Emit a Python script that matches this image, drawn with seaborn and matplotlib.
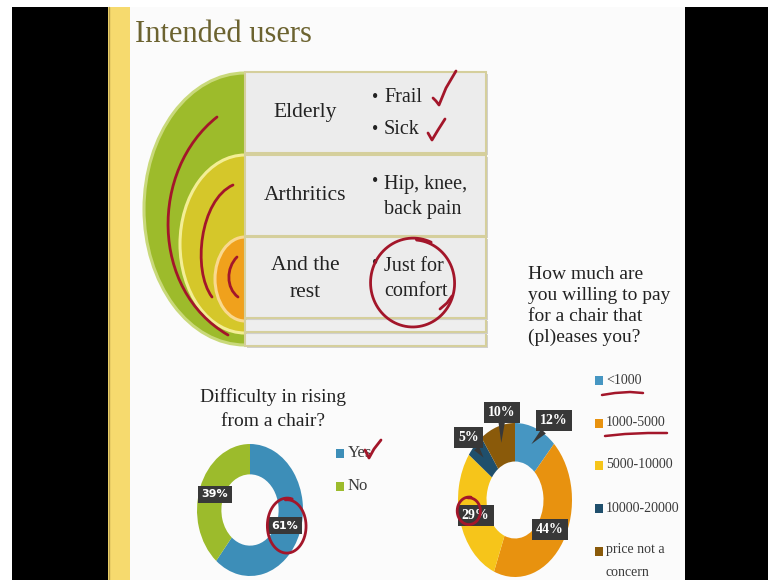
import numpy as np
import matplotlib
matplotlib.use("Agg")
import matplotlib.pyplot as plt
import seaborn as sns
from matplotlib.patches import Rectangle, Ellipse, PathPatch
from matplotlib.path import Path

# ---- survey data -------------------------------------------------------
rising_labels = ["Yes", "No"]
rising_share = [61, 39]

budget_labels = ["<1000", "1000-5000", "5000-10000", "10000-20000",
                 "price not a\nconcern"]
budget_share = [12, 44, 29, 5, 10]

groups = ["Elderly", "Arthritics", "And the\nrest"]
group_notes = [["Frail", "Sick"], ["Hip, knee,\nback pain"], ["Just for\ncomfort"]]

title = "Intended users"
rising_question = "Difficulty in rising\nfrom a chair?"
budget_question = "How much are\nyou willing to pay\nfor a chair that\n(pl)eases you?"

# ---- style ---------------------------------------------------------------
sns.set_theme(style="white")
plt.rcParams["font.family"] = ["Liberation Serif", "DejaVu Serif"]

rising_colors = sns.color_palette(["#3d8eb8", "#9cbb2c"])
budget_colors = sns.color_palette(["#4696c2", "#e8920f", "#f6c51a", "#1f4f6c", "#8a5a0a"])
ring_colors = ["#9dbb2b", "#d5c72a", "#f0a11c"]
ink = "#a3162a"
text_dark = "#222222"
box_dark = "#383838"

W, H = 768, 580
fig = plt.figure(figsize=(W / 100, H / 100), dpi=100)
fig.patch.set_facecolor("white")


def pixel_axes():
    a = fig.add_axes([0, 0, 1, 1])
    a.set_xlim(0, W)
    a.set_ylim(H, 0)
    a.axis("off")
    return a


bg = pixel_axes()

# frame around the slide
bg.add_patch(Rectangle((12, 7), 96, H - 7, fc="black", ec="none"))
bg.add_patch(Rectangle((108, 7), 22, H - 7, fc="#f6da6e", ec="none"))
bg.plot([108.5, 108.5], [7, H], color="#b9a04a", lw=1)
bg.add_patch(Rectangle((130, 7), 555, H - 7, fc="#fbfbfb", ec="none"))
bg.add_patch(Rectangle((685, 7), W - 685, H - 7, fc="black", ec="none"))

bg.text(135, 42, title, fontsize=22, color="#6c6330", va="baseline", ha="left")

# ---- nested target diagram ---------------------------------------------
ring_geom = [((245, 209), 202, 272), ((245, 244), 130, 178), ((245, 279), 60, 84)]
ring_edges = ["#c9d97a", "#f3ee95", "#f9d98e"]
for (c, w, h), fc, ec in zip(ring_geom, ring_colors, ring_edges):
    bg.add_patch(Ellipse(c, w, h, fc=fc, ec=ec, lw=2.2))

box_x, box_w = 245, 241
for y0 in (333, 319):
    bg.add_patch(Rectangle((box_x + 1.5, y0 + 1.5), box_w, 13, fc="#d0d0d0", ec="none"))
    bg.add_patch(Rectangle((box_x, y0), box_w, 13, fc="#eeeeee", ec="#d5cf9c", lw=1.5))
rows_y = [(72, 81), (155, 81), (237, 81)]
for (y0, h) in rows_y:
    bg.add_patch(Rectangle((box_x + 1.5, y0 + 1.5), box_w, h, fc="#d0d0d0", ec="none"))
    bg.add_patch(Rectangle((box_x, y0), box_w, h, fc="#ececec", ec="#d5cf9c", lw=1.5))

group_y = [113, 195, 279]
for g, y in zip(groups, group_y):
    bg.text(305, y, g, fontsize=15.5, color=text_dark, ha="center", va="center",
            linespacing=1.55)

note_rows = [[97, 130], [197], [279]]
for notes, ys in zip(group_notes, note_rows):
    for note, y in zip(notes, ys):
        lines = note.split("\n")
        off = (len(lines) - 1) * 15
        bg.text(372, y - off, "\u2022", fontsize=13, color=text_dark, ha="left", va="center")
        bg.text(384, y, note, fontsize=14.5, color=text_dark, ha="left", va="center",
                linespacing=1.45)

# ---- questions -----------------------------------------------------------
bg.text(273, 409, rising_question, fontsize=14, color=text_dark, ha="center",
        va="center", linespacing=1.6)
bg.text(528, 306, budget_question, fontsize=14, color=text_dark, ha="left",
        va="center", linespacing=1.28)

# ---- legends ---------------------------------------------------------------
for lab, col, y in zip(rising_labels, rising_colors, [453, 486]):
    bg.add_patch(Rectangle((336, y - 4.5), 8, 9, fc=col, ec="none"))
    bg.text(348, y, lab, fontsize=12, color="#3a3a3a", ha="left", va="center")

for lab, col, y in zip(budget_labels, budget_colors, [380, 423, 465, 508, 551]):
    bg.add_patch(Rectangle((595, y - 4.5), 8, 9, fc=col, ec="none"))
    multi = "\n" in lab
    bg.text(606, y - 8 if multi else y, lab, fontsize=10, color="#3a3a3a", ha="left",
            va="top" if multi else "center", linespacing=2.0)


# ---- donuts ----------------------------------------------------------------
def donut(cx, cy, rx, ry, values, colors, width):
    ax = fig.add_axes([(cx - rx) / W, (H - cy - ry) / H, 2 * rx / W, 2 * ry / H])
    wedges, _ = ax.pie(values, colors=colors, startangle=90, counterclock=False,
                       wedgeprops=dict(width=width, edgecolor="none"))
    ax.set_aspect("auto")
    ax.set_xlim(-1, 1)
    ax.set_ylim(-1, 1)
    return ax, wedges


def mid_point(w, r):
    t = np.deg2rad((w.theta1 + w.theta2) / 2)
    return r * np.cos(t), r * np.sin(t)


ax1, w1 = donut(250, 510, 53, 66, rising_share, rising_colors, 0.46)
for w, v in zip(w1, rising_share):
    x, y = mid_point(w, 0.70)
    ax1.text(x, y, f"{v}%", fontsize=8, fontweight="bold", color="white",
             family="DejaVu Sans", ha="center", va="center",
             bbox=dict(boxstyle="square,pad=0.3", fc=box_dark, ec="none"))

ax2, w2 = donut(515, 500, 57, 77, budget_share, budget_colors, 0.5)
callout_pos = {0: (0.68, 1.03), 3: (-0.82, 0.81), 4: (-0.23, 1.14)}
for i, (w, v) in enumerate(zip(w2, budget_share)):
    label = f"{v}%"
    style = dict(fontsize=10, fontweight="bold", color="white", ha="center", va="center",
                 bbox=dict(boxstyle="square,pad=0.3", fc=box_dark, ec="none"))
    if i in callout_pos:
        ax2.annotate(label, xy=mid_point(w, 0.78), xytext=callout_pos[i],
                     arrowprops=dict(arrowstyle="wedge,tail_width=0.45", fc=box_dark,
                                     ec="none", shrinkA=0, shrinkB=0),
                     annotation_clip=False, **style)
    else:
        x, y = mid_point(w, 0.72)
        ax2.text(x, y, label, **style)

# ---- pen marks -------------------------------------------------------------
pen = pixel_axes()


def stroke(pts, lw=2.0):
    pts = np.asarray(pts, float)
    pen.plot(pts[:, 0], pts[:, 1], color=ink, lw=lw, solid_capstyle="round",
             solid_joinstyle="round")


def curve(p0, c1, c2, p1, lw=2.0):
    path = Path([p0, c1, c2, p1], [Path.MOVETO, Path.CURVE4, Path.CURVE4, Path.CURVE4])
    pen.add_patch(PathPatch(path, fc="none", ec=ink, lw=lw, capstyle="round"))


def loop(cx, cy, rx, ry, t0, extra, shrink=0.06, lw=2.0):
    t = np.linspace(t0, t0 + 2 * np.pi + extra, 200)
    k = 1 - shrink * (t - t0) / (2 * np.pi)
    stroke(np.c_[cx + rx * k * np.cos(t), cy - ry * k * np.sin(t)], lw)


curve((217, 117), (150, 170), (150, 290), (228, 335))
curve((233, 185), (200, 200), (192, 270), (212, 297))
curve((237, 257), (226, 268), (226, 288), (238, 297))

stroke([(433, 98), (436, 101), (439, 105), (446, 88), (456, 71)])
stroke([(428, 133), (432, 140), (438, 130), (445, 119)])
stroke([(365, 450), (369, 458), (374, 449), (381, 440)])

loop(413, 283, 43, 45, np.deg2rad(65), np.deg2rad(20), shrink=0.04)
stroke([(440, 309), (447, 303), (452, 296)])
loop(287, 526, 20, 28, np.deg2rad(75), np.deg2rad(20))
loop(469, 511, 12, 14, np.deg2rad(80), np.deg2rad(15))

stroke([(602, 395), (615, 393), (630, 392), (643, 393)], lw=1.8)
stroke([(605, 436), (625, 434), (648, 433), (667, 433)], lw=1.8)

fig.savefig("out.png", dpi=100, facecolor=fig.get_facecolor())
